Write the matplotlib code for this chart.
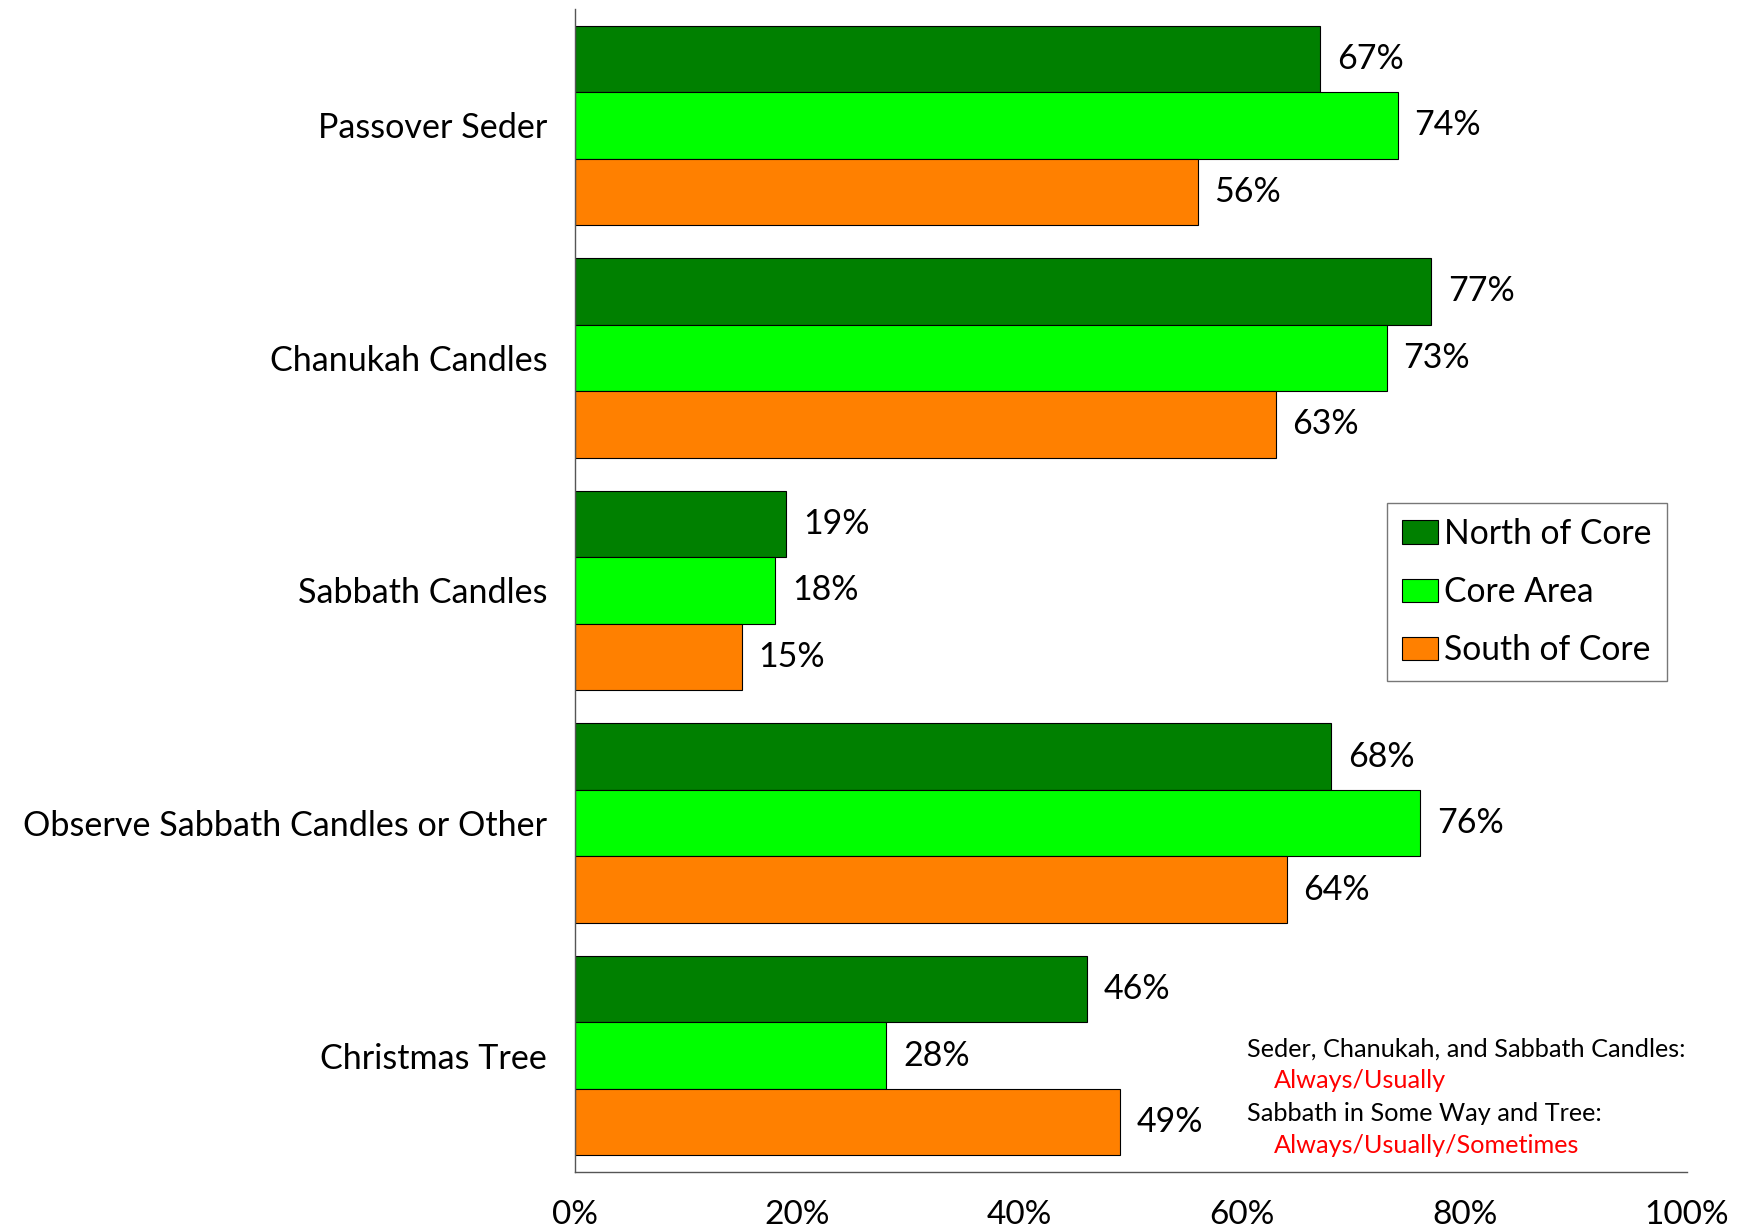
import matplotlib
matplotlib.use("Agg")
import matplotlib.pyplot as plt
import numpy as np

plt.rcParams['font.family'] = ['Lato', 'DejaVu Sans']

categories = ["Passover Seder", "Chanukah Candles", "Sabbath Candles",
              "Observe Sabbath Candles or Other", "Christmas Tree"]
series_names = ["North of Core", "Core Area", "South of Core"]
north = [67, 77, 19, 68, 46]
core = [74, 73, 18, 76, 28]
south = [56, 63, 15, 64, 49]
colors = ["#008000", "#00FF00", "#FF8000"]
xticks = [0, 20, 40, 60, 80, 100]

fig = plt.figure(figsize=(17.44, 12.32), dpi=100)
ax = fig.add_axes([0.3297, 0.0487, 0.9673 - 0.3297, 0.9927 - 0.0487])

n = len(categories)
bar_h = 1 / 3.5
y = np.arange(n)
for i, (vals, name, col) in enumerate(zip([north, core, south], series_names, colors)):
    pos = y - bar_h + i * bar_h
    bars = ax.barh(pos, vals, height=bar_h, color=col, edgecolor="black",
                   linewidth=0.8, label=name)
    for b, v in zip(bars, vals):
        ax.text(v + 1.5, b.get_y() + bar_h / 2, f"{v}%", va="center", ha="left",
                fontsize=24.5)

ax.set_ylim(n - 0.5, -0.5)
ax.set_xlim(0, 100)
ax.set_yticks(y)
ax.set_yticklabels(categories, fontsize=24.6)
ax.set_xticks(xticks)
ax.set_xticklabels([f"{t}%" for t in xticks], fontsize=24)
ax.tick_params(axis="both", length=0)
ax.tick_params(axis="y", pad=20)
ax.tick_params(axis="x", pad=20)
for s in ["top", "right"]:
    ax.spines[s].set_visible(False)
for s in ["left", "bottom"]:
    ax.spines[s].set_color("#555555")
    ax.spines[s].set_linewidth(1.0)

leg = ax.legend(loc="upper left", bbox_to_anchor=(0.7305, 0.5755), fontsize=24.2,
                frameon=True, fancybox=False, handlelength=1.05, handleheight=0.7,
                handletextpad=0.2, labelspacing=0.78, borderpad=0.45,
                borderaxespad=0)
leg.get_frame().set_edgecolor("#555555")
leg.get_frame().set_linewidth(1.0)

fs = 18.2
ax.text(0.6045, 0.1061, "Seder, Chanukah, and Sabbath Candles:", transform=ax.transAxes,
        fontsize=fs, va="center", ha="left")
ax.text(0.6285, 0.0784, "Always/Usually", transform=ax.transAxes,
        fontsize=fs, va="center", ha="left", color="red")
ax.text(0.6045, 0.0507, "Sabbath in Some Way and Tree:", transform=ax.transAxes,
        fontsize=fs, va="center", ha="left")
ax.text(0.6285, 0.0229, "Always/Usually/Sometimes", transform=ax.transAxes,
        fontsize=fs, va="center", ha="left", color="red")

fig.savefig("out.png", dpi=100)
